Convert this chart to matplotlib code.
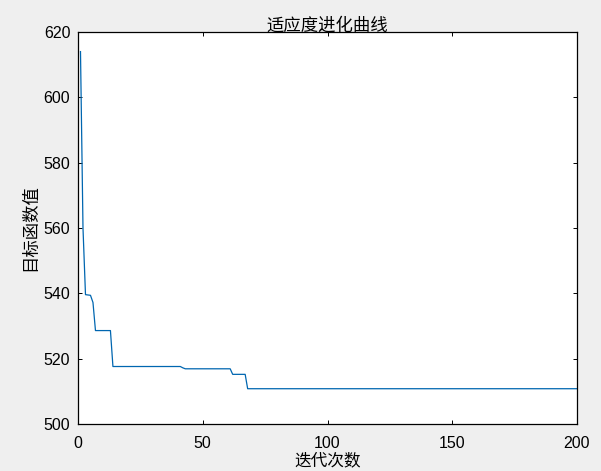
# fitness evolution curve - best objective value per iteration
import matplotlib.pyplot as plt
import numpy as np

plt.rcParams['font.family'] = ['Liberation Sans', 'Noto Sans CJK SC', 'DejaVu Sans']

# best value found so far at each iteration
iterations = np.arange(1, 201)
best_values = ([614.0, 560.0, 539.6, 539.5, 539.4, 537.2]
               + [528.6] * 7          # iter 7-13
               + [517.6] * 28         # iter 14-41
               + [517.2]              # iter 42
               + [516.9] * 19         # iter 43-61
               + [515.2] * 6          # iter 62-67
               + [510.8] * 133)       # iter 68-200

x_ticks = [0, 50, 100, 150, 200]
y_ticks = [500, 520, 540, 560, 580, 600, 620]

title_text = '适应度进化曲线'
xlabel_text = '迭代次数'
ylabel_text = '目标函数值'

fig = plt.figure(figsize=(6.01, 4.71), dpi=100, facecolor='#efefef')
ax = fig.add_axes([78 / 601, 1 - 424 / 471, 499 / 601, 392 / 471])
ax.set_facecolor('white')

ax.plot(iterations, best_values, color='#0066b0', linewidth=0.9)

ax.set_xlim(0, 200)
ax.set_ylim(500, 620)
ax.set_xticks(x_ticks)
ax.set_yticks(y_ticks)

# matlab-ish look: inward ticks on all sides
ax.tick_params(direction='in', length=3, width=0.7, top=True, right=True,
               labelsize=11.5, colors='black')
ax.tick_params(axis='x', pad=9)
ax.tick_params(axis='y', pad=5.5)
for s in ax.spines.values():
    s.set_linewidth(0.9)
    s.set_color('black')

cjk = ['Noto Sans CJK SC', 'DejaVu Sans']
ax.set_title(title_text, fontsize=12.5, family=cjk, pad=1)
# reference has this label clipped at the bottom edge; keep it just inside
ax.set_xlabel(xlabel_text, fontsize=12, family=cjk, labelpad=0.5)
ax.set_ylabel(ylabel_text, fontsize=12.5, family=cjk, labelpad=3)

fig.savefig('out.png', dpi=100, facecolor=fig.get_facecolor())
